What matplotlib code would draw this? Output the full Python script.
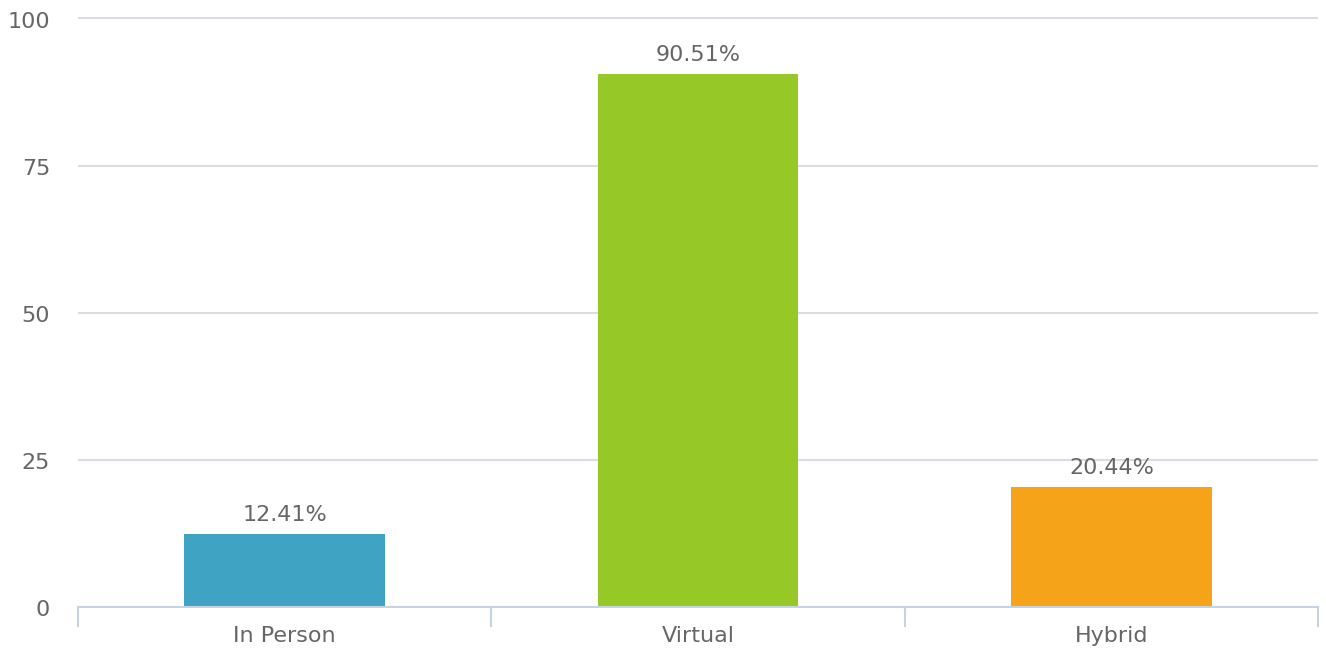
import matplotlib.pyplot as plt
import matplotlib.transforms as mtransforms
import numpy as np

categories = ["In Person", "Virtual", "Hybrid"]
values = [12.41, 90.51, 20.44]
colors = ["#3fa3c4", "#96c927", "#f5a41a"]
y_ticks = [0, 25, 50, 75, 100]

plt.rcParams['font.family'] = ['DejaVu Sans']

fig = plt.figure(figsize=(13.26, 6.5), dpi=100)
ax = fig.add_axes([0.0588, 0.0662, 0.9352, 0.9072])

x = np.arange(len(categories))
bars = ax.bar(x, values, width=0.485, color=colors, zorder=3)

for b, v in zip(bars, values):
    ax.text(b.get_x() + b.get_width() / 2, v + 1.5, f"{v:.2f}%",
            ha="center", va="bottom", fontsize=16, color="#666666", zorder=4)

ax.set_xlim(-0.5, len(categories) - 0.5)
ax.set_ylim(0, 100.2)
ax.set_yticks(y_ticks)
ax.yaxis.grid(True, color="#d9dce2", linewidth=1.5, zorder=0)

ax.set_xticks(x)
ax.set_xticklabels(categories)
ax.set_xticks(np.arange(-0.5, len(categories), 1.0), minor=True)
ax.tick_params(axis="x", which="major", length=0, pad=14, labelsize=16, labelcolor="#666666")
ax.tick_params(axis="x", which="minor", length=14.4, width=1.5, color="#c5d3e3")
ax.tick_params(axis="y", length=0, pad=20, labelsize=16, labelcolor="#666666")
shift = mtransforms.ScaledTranslation(0, -1 / 72, fig.dpi_scale_trans)
for lbl in ax.get_yticklabels():
    lbl.set_transform(lbl.get_transform() + shift)

for s in ["top", "right", "left"]:
    ax.spines[s].set_visible(False)
ax.spines["bottom"].set_color("#c5d3e3")
ax.spines["bottom"].set_linewidth(1.5)
ax.spines["bottom"].set_zorder(5)

fig.savefig("out.png", dpi=100)
